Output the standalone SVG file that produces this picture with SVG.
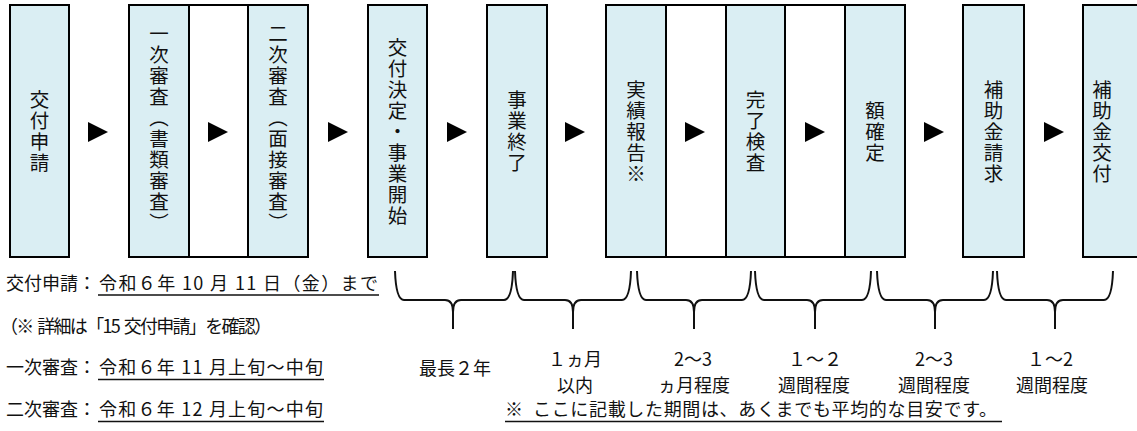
<svg xmlns="http://www.w3.org/2000/svg" width="1137" height="431" viewBox="0 0 1137 431">
<style>
.box{fill:#DAEEF3;stroke:#000;stroke-width:2}
.wbox{fill:#FFFFFF;stroke:#000;stroke-width:2}
.v{font-family:"Noto Sans CJK JP","Noto Sans CJK SC",sans-serif;font-size:19.5px;writing-mode:vertical-rl;text-anchor:middle;letter-spacing:1.5px;fill:#111}
.t{font-family:"Noto Sans CJK JP","Noto Sans CJK SC",sans-serif;font-size:18px;fill:#111}
.c{text-anchor:middle}
.ul{stroke:#111;stroke-width:1.5}
.arrow{fill:#000}
.brace{fill:none;stroke:#111;stroke-width:2}
</style>
<rect width="1137" height="431" fill="#FFFFFF"/>

<g id="node-kofu-shinsei">
<rect class="box" x="10" y="5" width="59" height="252"/>
<text class="v" x="39.5" y="132">交付申請</text>
</g>

<g id="node-shinsa">
<rect class="box" x="129" y="5" width="179" height="252"/>
<rect class="wbox" x="189" y="5" width="59" height="252"/>
<text class="v" x="159" y="129">一次審査（書類審査）</text>
<text class="v" x="278" y="129">二次審査（面接審査）</text>
</g>

<g id="node-kofu-kettei">
<rect class="box" x="368" y="5" width="59" height="252"/>
<text class="v" x="397.5" y="132">交付決定・事業開始</text>
</g>

<g id="node-jigyo-shuryo">
<rect class="box" x="487" y="5" width="60" height="252"/>
<text class="v" x="517" y="132">事業終了</text>
</g>

<g id="node-jisseki">
<rect class="box" x="606" y="5" width="299" height="252"/>
<rect class="wbox" x="666" y="5" width="60" height="252"/>
<rect class="wbox" x="785" y="5" width="60" height="252"/>
<text class="v" x="636" y="132">実績報告※</text>
<text class="v" x="755.5" y="132">完了検査</text>
<text class="v" x="875" y="132">額確定</text>
</g>

<g id="node-seikyu">
<rect class="box" x="963" y="5" width="61" height="252"/>
<text class="v" x="993.5" y="132">補助金請求</text>
</g>

<g id="node-kofu">
<rect class="box" x="1083" y="5" width="60" height="252"/>
<text class="v" x="1102" y="132">補助金交付</text>
</g>

<g id="connectors">
<polygon class="arrow" points="88,122 108,132 88,142"/>
<polygon class="arrow" points="208,122 228,132 208,142"/>
<polygon class="arrow" points="328,122 348,132 328,142"/>
<polygon class="arrow" points="447,122 467,132 447,142"/>
<polygon class="arrow" points="565,122 585,132 565,142"/>
<polygon class="arrow" points="685,122 705,132 685,142"/>
<polygon class="arrow" points="805,122 825,132 805,142"/>
<polygon class="arrow" points="924,122 944,132 924,142"/>
<polygon class="arrow" points="1044,122 1064,132 1044,142"/>
</g>

<g id="braces">
<path class="brace" d="M395,271 Q396,300 404,300 L445,300 Q453,300 453,312 L453,329 M453,312 Q453,300 461,300 L504,300 Q512,300 513,271"/>
<path class="brace" d="M515,271 Q516,300 524,300 L565,300 Q573,300 573,312 L573,329 M573,312 Q573,300 581,300 L622,300 Q630,300 631,271"/>
<path class="brace" d="M637,271 Q638,300 646,300 L686,300 Q694,300 694,312 L694,329 M694,312 Q694,300 702,300 L742,300 Q750,300 751,271"/>
<path class="brace" d="M755,271 Q756,300 764,300 L807,300 Q815,300 815,312 L815,329 M815,312 Q815,300 823,300 L862,300 Q870,300 871,271"/>
<path class="brace" d="M877,271 Q878,300 886,300 L927,300 Q935,300 935,312 L935,329 M935,312 Q935,300 943,300 L984,300 Q992,300 993,271"/>
<path class="brace" d="M997,271 Q998,300 1006,300 L1047,300 Q1055,300 1055,312 L1055,329 M1055,312 Q1055,300 1063,300 L1104,300 Q1112,300 1113,271"/>
</g>

<g id="schedule">
<text class="t" x="6" y="289.5">交付申請：</text>
<text class="t" x="99" y="289.5" textLength="279" lengthAdjust="spacing">令和６年 10 月 11 日（金）まで</text>
<line class="ul" x1="98" y1="295" x2="379" y2="295"/>
<text class="t" x="0" y="333" textLength="272" lengthAdjust="spacing">（※&#160;&#160;詳細は「15&#160;&#160;交付申請」を確認）</text>
<text class="t" x="6" y="374">一次審査：</text>
<text class="t" x="99" y="374" textLength="224" lengthAdjust="spacing">令和６年 11 月上旬〜中旬</text>
<line class="ul" x1="98" y1="379.5" x2="324" y2="379.5"/>
<text class="t" x="6" y="416">二次審査：</text>
<text class="t" x="99" y="416" textLength="224" lengthAdjust="spacing">令和６年 12 月上旬〜中旬</text>
<line class="ul" x1="98" y1="421.5" x2="324" y2="421.5"/>
</g>

<g id="periods">
<text class="t c" x="455" y="375">最長２年</text>
<text class="t c" x="575" y="366">１ヵ月</text>
<text class="t c" x="575" y="392">以内</text>
<text class="t c" x="693" y="366">2〜3</text>
<text class="t c" x="694" y="392">ヵ月程度</text>
<text class="t c" x="815" y="366">１〜２</text>
<text class="t c" x="814" y="392">週間程度</text>
<text class="t c" x="934" y="366">2〜3</text>
<text class="t c" x="934" y="392">週間程度</text>
<text class="t c" x="1050" y="366">１〜2</text>
<text class="t c" x="1052" y="392">週間程度</text>
<text class="t" x="505" y="416" textLength="492" lengthAdjust="spacing">※&#160;&#160;ここに記載した期間は、あくまでも平均的な目安です。</text>
<line class="ul" x1="505" y1="421.5" x2="1002" y2="421.5"/>
</g>
</svg>
